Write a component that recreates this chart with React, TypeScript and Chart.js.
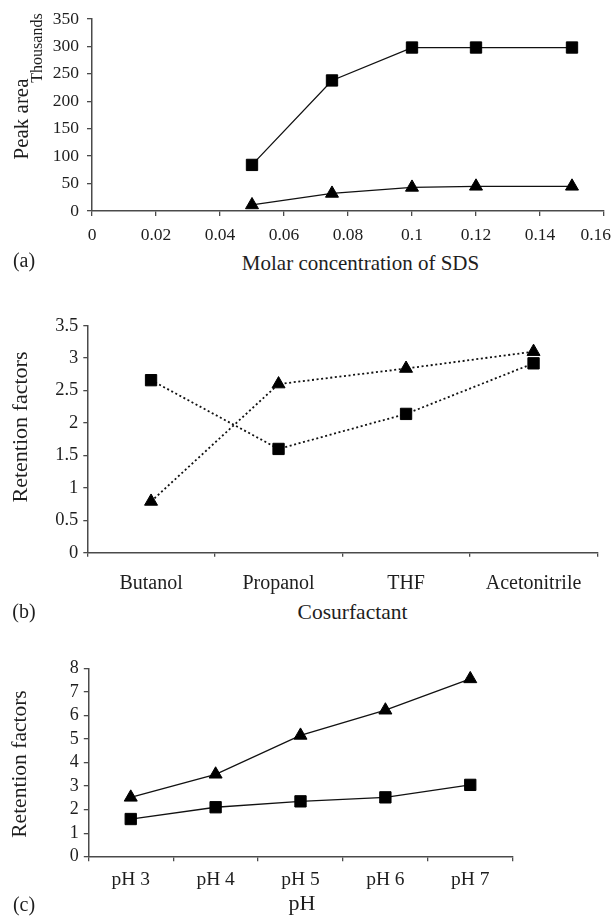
import React, { useEffect, useRef } from 'react';
import { Chart, registerables } from 'chart.js';

Chart.register(...registerables);

// ---- data ----
const sdsConcentration = [0.05, 0.075, 0.1, 0.12, 0.15];
const sdsSquares = [84, 238, 298, 298, 298];
const sdsTriangles = [11, 32, 43, 45, 45];

const cosurfactants = ['Butanol', 'Propanol', 'THF', 'Acetonitrile'];
const cosSquares = [2.66, 1.6, 2.14, 2.92];
const cosTriangles = [0.79, 2.6, 2.84, 3.1];

const phLabels = ['pH 3', 'pH 4', 'pH 5', 'pH 6', 'pH 7'];
const phSquares = [1.6, 2.1, 2.35, 2.52, 3.05];
const phTriangles = [2.52, 3.5, 5.15, 6.22, 7.55];

const FONT = "'Liberation Serif', 'Times New Roman', serif";
const AXIS = '#4a4a4a';
const TEXT = '#1e1e1e';
const MARK = '#000000';

function yScale(min: number, max: number, step: number, width: number, tl: number, pad: number, size: number, fmt?: (v: any) => string) {
  return {
    type: 'linear',
    min,
    max,
    ticks: { stepSize: step, padding: pad, autoSkip: false, color: TEXT, font: { family: FONT, size }, callback: fmt || ((v: any) => String(+Number(v).toFixed(2))) },
    grid: { display: true, drawOnChartArea: false, drawTicks: true, tickLength: tl, color: AXIS, lineWidth: 1.3 },
    border: { display: true, color: AXIS, width: 1.5 },
    afterFit: (s: any) => { s.width = width; s.paddingTop = 0; s.paddingBottom = 0; },
  };
}

function xCategory(height: number, tl: number, pad: number, size: number) {
  return {
    type: 'category',
    offset: true,
    ticks: { padding: pad, color: TEXT, font: { family: FONT, size }, autoSkip: false, maxRotation: 0 },
    grid: { display: true, offset: true, drawOnChartArea: false, drawTicks: true, tickLength: tl, color: AXIS, lineWidth: 1.3 },
    border: { display: true, color: AXIS, width: 1.5 },
    afterFit: (s: any) => { s.height = height; s.paddingLeft = 0; s.paddingRight = 0; },
  };
}

function squareSet(data: any[], dashed: boolean) {
  return {
    data,
    borderColor: '#111',
    borderWidth: dashed ? 1.8 : 1.3,
    borderDash: dashed ? [2, 2.6] : [],
    pointStyle: 'rect',
    pointRadius: 8,
    pointBackgroundColor: MARK,
    pointBorderColor: MARK,
    pointBorderWidth: 1,
    fill: false,
    tension: 0,
    clip: false,
  };
}

function triangleSet(data: any[], dashed: boolean) {
  return {
    data,
    borderColor: '#111',
    borderWidth: dashed ? 1.8 : 1.3,
    borderDash: dashed ? [2, 2.6] : [],
    pointStyle: 'triangle',
    pointRadius: 7.5,
    pointBackgroundColor: MARK,
    pointBorderColor: MARK,
    pointBorderWidth: 1,
    fill: false,
    tension: 0,
    clip: false,
  };
}

const basePlugins = { legend: { display: false }, tooltip: { enabled: false }, title: { display: false } };

const lastLabelFit = {
  id: 'lastLabelFit',
  beforeDraw(chart: any) {
    const s = chart.scales.x;
    if (!s) return;
    const items = s.getLabelItems();
    const last = items[items.length - 1];
    if (last) {
      last.options.textAlign = 'right';
      last.options.translation[0] = 611;
    }
  },
};

function buildA() {
  return {
    type: 'line',
    data: {
      datasets: [
        squareSet(sdsConcentration.map((x, i) => ({ x, y: sdsSquares[i] })), false),
        triangleSet(sdsConcentration.map((x, i) => ({ x, y: sdsTriangles[i] })), false),
      ],
    },
    options: {
      animation: false,
      responsive: true,
      maintainAspectRatio: false,
      layout: { padding: { top: 19, right: 7, left: 0, bottom: 0 } },
      plugins: basePlugins,
      scales: {
        x: {
          type: 'linear',
          min: 0,
          max: 0.16,
          ticks: { stepSize: 0.02, padding: 9, color: TEXT, font: { family: FONT, size: 17.5 }, maxRotation: 0, autoSkip: false, callback: (v: any) => String(+Number(v).toFixed(2)) },
          grid: { display: true, drawOnChartArea: false, drawTicks: true, tickLength: 5, color: AXIS, lineWidth: 1.3 },
          border: { display: true, color: AXIS, width: 1.5 },
          afterFit: (s: any) => { s.height = 34; s.paddingLeft = 0; s.paddingRight = 0; },
        },
        y: yScale(0, 350, 50, 92, 5, 8, 17.5),
      },
    },
    plugins: [lastLabelFit],
  };
}

function buildB() {
  return {
    type: 'line',
    data: {
      labels: cosurfactants,
      datasets: [squareSet(cosSquares, true), triangleSet(cosTriangles, true)],
    },
    options: {
      animation: false,
      responsive: true,
      maintainAspectRatio: false,
      layout: { padding: { top: 25.7, right: 15.7, left: 0, bottom: 0 } },
      plugins: basePlugins,
      scales: {
        x: xCategory(47.3, 4, 15, 20),
        y: yScale(0, 3.5, 0.5, 87.3, 4, 5, 18.5),
      },
    },
  };
}

function buildC() {
  return {
    type: 'line',
    data: {
      labels: phLabels,
      datasets: [squareSet(phSquares, false), triangleSet(phTriangles, false)],
    },
    options: {
      animation: false,
      responsive: true,
      maintainAspectRatio: false,
      layout: { padding: { top: 28.3, right: 100.3, left: 0, bottom: 0 } },
      plugins: basePlugins,
      scales: {
        x: xCategory(43.3, 4.5, 7, 19.5),
        y: yScale(0, 8, 1, 88.3, 4.5, 5, 18),
      },
    },
  };
}

function ChartBox({ top, height, build }: { top: number; height: number; build: () => any }) {
  const ref = useRef<HTMLCanvasElement>(null);
  useEffect(() => {
    const chart = new Chart(ref.current as HTMLCanvasElement, build());
    return () => chart.destroy();
  }, []);
  return (
    <div style={{ position: 'absolute', left: 0, top, width: 613, height }}>
      <canvas ref={ref} />
    </div>
  );
}

function Label({ x, y, text, size, rotate }: { x: number; y: number; text: string; size: number; rotate?: boolean }) {
  return (
    <div
      style={{
        position: 'absolute',
        left: x,
        top: y,
        transform: `translate(-50%, -50%)${rotate ? ' rotate(-90deg)' : ''}`,
        fontFamily: FONT,
        fontSize: size,
        lineHeight: 1,
        whiteSpace: 'nowrap',
        color: TEXT,
      }}
    >
      {text}
    </div>
  );
}

export default function App() {
  return (
    <div style={{ position: 'absolute', left: 0, top: 0, width: 613, height: 919, overflow: 'hidden', background: '#fff' }}>
      <ChartBox top={0} height={245} build={buildA} />
      <ChartBox top={300} height={300} build={buildB} />
      <ChartBox top={640} height={260} build={buildC} />

      <Label x={20.5} y={119} text="Peak area" size={21} rotate />
      <Label x={37} y={48} text="Thousands" size={16} rotate />
      <Label x={24} y={260} text="(a)" size={20} />
      <Label x={360.5} y={262.5} text="Molar concentration of SDS" size={21} />

      <Label x={20} y={427} text="Retention factors" size={22} rotate />
      <Label x={24} y={611} text="(b)" size={20} />
      <Label x={352.5} y={612.5} text="Cosurfactant" size={21.5} />

      <Label x={20} y={763.5} text="Retention factors" size={21.5} rotate />
      <Label x={24} y={904} text="(c)" size={20} />
      <Label x={302} y={903} text="pH" size={22} />
    </div>
  );
}
